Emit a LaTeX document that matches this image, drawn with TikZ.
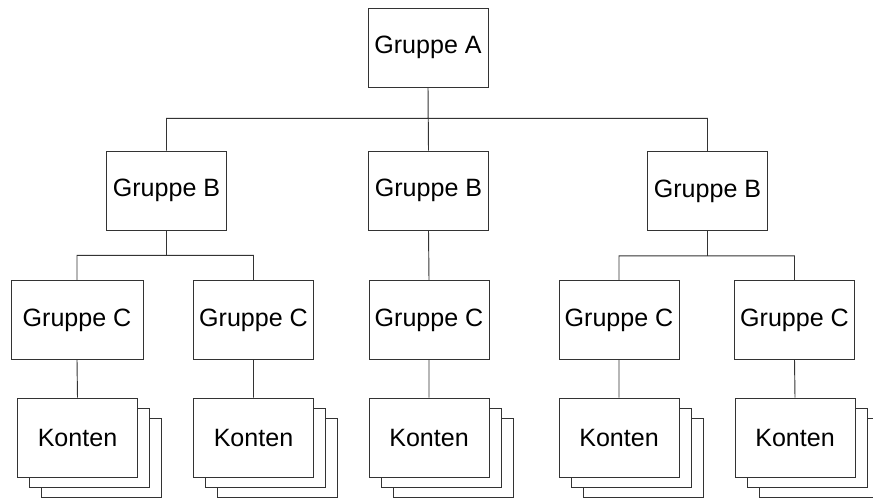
\documentclass[tikz,border=0pt]{standalone}
\usepackage{fontspec}
\setmainfont{Liberation Sans}
\usetikzlibrary{shadows}
\tikzset{
  grpbox/.style={draw=black!80, line width=.7pt, fill=white, inner sep=0pt,
    minimum width=90pt, minimum height=59.25pt, font=\fontsize{18.8}{21}\selectfont},
  kontbox/.style={grpbox,
    copy shadow={shadow xshift=18pt, shadow yshift=-15pt, fill=white, draw=black!80, line width=.7pt},
    copy shadow={shadow xshift=9pt, shadow yshift=-7.5pt, fill=white, draw=black!80, line width=.7pt}},
  link/.style={draw=black!80, line width=.7pt}
}
\begin{document}
\begin{tikzpicture}[x=.75pt,y=-.75pt]
          \useasboundingbox (0,0) rectangle (873,498);
          % level A
          \node (a) at (428,47.5) [grpbox] {Gruppe A};
          % level B
          \node (b1) at (166.5,190.5) [grpbox] {Gruppe B};
          \node (b2) at (428.5,190.5) [grpbox] {Gruppe B};
          \node (b3) at (707.5,191) [grpbox] {Gruppe B};
          % level C
          \node (c1) at (77,320) [grpbox, minimum width=99pt] {Gruppe C};
          \node (c2) at (253.5,320) [grpbox] {Gruppe C};
          \node (c3) at (429,320) [grpbox] {Gruppe C};
          \node (c4) at (619,320) [grpbox] {Gruppe C};
          \node (c5) at (794.5,320) [grpbox] {Gruppe C};
          % konten
          \node (k1) at (77.5,437.5) [kontbox] {Konten};
          \node (k2) at (253.5,437.5) [kontbox] {Konten};
          \node (k3) at (429,437.5) [kontbox] {Konten};
          \node (k4) at (619,437.5) [kontbox] {Konten};
          \node (k5) at (795,437.5) [kontbox] {Konten};
          \draw[link]
          (a.south) -- ++(0,31) -| (b1.north)
          (a.south) -- ++(0,31) -| (b3.north)
          (a.south) -- (b2.north);
          \draw[link]
          (b1.south) -- ++(0,25) -| (c1.north)
          (b1.south) -- ++(0,25) -| (c2.north)
          (b2.south) -- (c3.north)
          (b3.south) -- ++(0,25) -| (c4.north)
          (b3.south) -- ++(0,25) -| (c5.north);
          \draw[link]
          (c1.south) -- (k1.north) (c2.south) -- (k2.north)
          (c3.south) -- (k3.north) (c4.south) -- (k4.north)
          (c5.south) -- (k5.north);
\end{tikzpicture}
\end{document}
